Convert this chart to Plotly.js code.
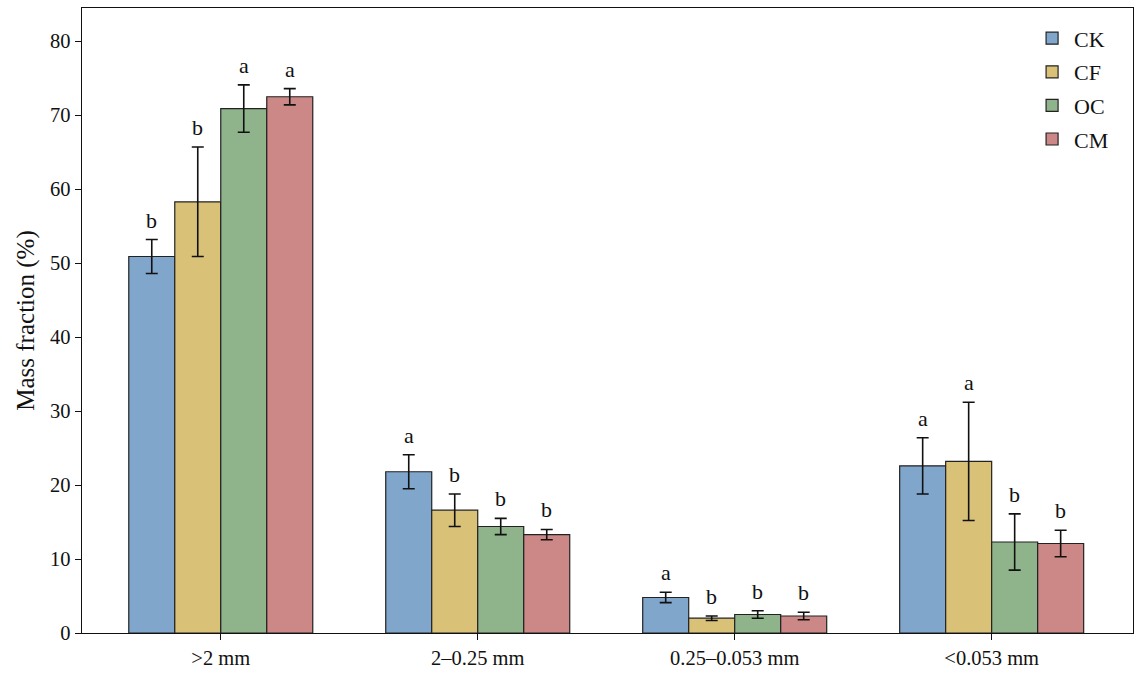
<!DOCTYPE html>
<html>
<head>
<meta charset="utf-8">
<script src="https://cdn.plot.ly/plotly-3.0.1.min.js"></script>
<style>
  html, body { margin: 0; padding: 0; background: #fff; }
  #chart { width: 1142px; height: 674px; }
</style>
</head>
<body>
<div id="chart"></div>
<script>
const sizeClasses = [">2 mm", "2\u20130.25 mm", "0.25\u20130.053 mm", "<0.053 mm"];
const treatments = ["CK", "CF", "OC", "CM"];
const colors = ["#80a6cc", "#d9c278", "#8fb48b", "#cb8887"];

const ckMean = [50.9, 21.8, 4.8, 22.6];
const cfMean = [58.3, 16.6, 2.0, 23.2];
const ocMean = [70.9, 14.4, 2.5, 12.3];
const cmMean = [72.5, 13.3, 2.3, 12.1];

const ckErr = [2.3, 2.3, 0.7, 3.8];
const cfErr = [7.4, 2.2, 0.3, 8.0];
const ocErr = [3.2, 1.1, 0.5, 3.8];
const cmErr = [1.1, 0.7, 0.5, 1.8];

const ckSig = ["b", "a", "a", "a"];
const cfSig = ["b", "b", "b", "a"];
const ocSig = ["a", "b", "b", "b"];
const cmSig = ["a", "b", "b", "b"];

const means = [ckMean, cfMean, ocMean, cmMean];
const errs = [ckErr, cfErr, ocErr, cmErr];
const sigs = [ckSig, cfSig, ocSig, cmSig];

const serif = "Liberation Serif, Times New Roman, serif";
const bargap = 0.284;

const traces = treatments.map((name, j) => ({
  type: "bar",
  name: name,
  legendgroup: name,
  x: sizeClasses,
  y: means[j],
  marker: { color: colors[j], line: { color: "#222", width: 1.2 } },
  error_y: {
    type: "data",
    array: errs[j],
    visible: true,
    color: "#111",
    thickness: 1.6,
    width: 6,
  },
}));

// significance letters above each error bar
const slot = (1 - bargap) / treatments.length;
const annotations = [];
treatments.forEach((t, j) => {
  sizeClasses.forEach((c, i) => {
    annotations.push({
      xref: "x",
      yref: "y",
      x: i + (j - 1.5) * slot,
      y: means[j][i] + errs[j][i],
      text: sigs[j][i],
      showarrow: false,
      yanchor: "bottom",
      yshift: 5,
      font: { family: serif, size: 22, color: "#111" },
    });
  });
});

const layout = {
  width: 1142,
  height: 674,
  margin: { l: 82, r: 9, t: 8, b: 41 },
  paper_bgcolor: "#fff",
  plot_bgcolor: "#fff",
  barmode: "group",
  bargap: bargap,
  bargroupgap: 0,
  font: { family: serif, size: 20, color: "#111" },
  showlegend: true,
  legend: {
    x: 0.982,
    y: 0.985,
    xanchor: "right",
    yanchor: "top",
    font: { family: serif, size: 22, color: "#111" },
    bgcolor: "rgba(0,0,0,0)",
    tracegroupgap: 2,
    itemwidth: 34,
  },
  xaxis: {
    type: "category",
    range: [-0.54, 3.55],
    showline: true,
    linecolor: "#111",
    linewidth: 1.3,
    mirror: true,
    ticks: "outside",
    ticklen: 6,
    tickcolor: "#111",
    tickfont: { family: serif, size: 20.5, color: "#111" },
    showgrid: false,
  },
  yaxis: {
    range: [0, 84.5],
    dtick: 10,
    showline: true,
    linecolor: "#111",
    linewidth: 1.3,
    mirror: true,
    ticks: "outside",
    ticklen: 6,
    tickcolor: "#111",
    tickfont: { family: serif, size: 20.5, color: "#111" },
    showgrid: false,
    zeroline: false,
    title: { text: "Mass fraction (%)", font: { family: serif, size: 25, color: "#111" }, standoff: 8 },
  },
  annotations: annotations,
};

Plotly.newPlot("chart", traces, layout, { staticPlot: true });
</script>
</body>
</html>
